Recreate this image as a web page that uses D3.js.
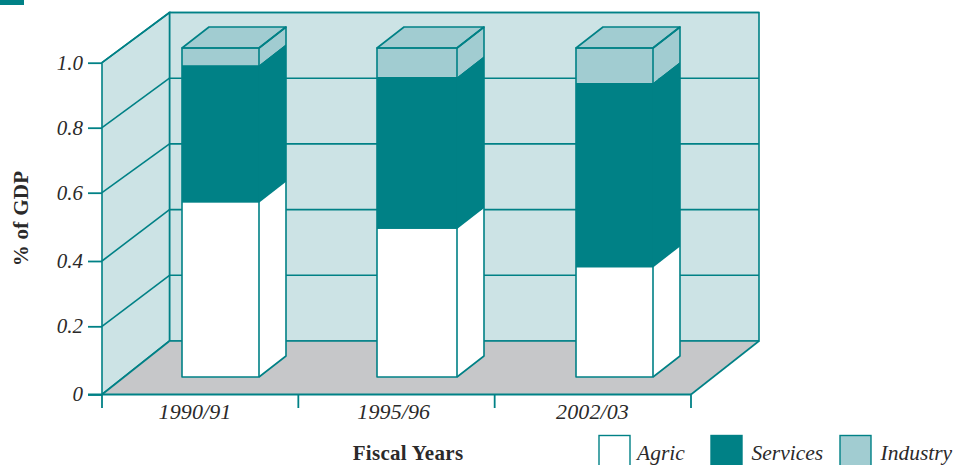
<!DOCTYPE html>
<html>
<head>
<meta charset="utf-8">
<script src="https://cdn.jsdelivr.net/npm/d3@7"></script>
<style>
  html, body { margin: 0; background: #fff; overflow: hidden; }
  text { font-family: "Liberation Serif", serif; fill: #2b2a2a; }
</style>
</head>
<body>
<script>
const years = ["1990/91", "1995/96", "2002/03"];
const seriesNames = ["Agric", "Services", "Industry"];
const agric = [0.53, 0.45, 0.333];
const services = [0.418, 0.462, 0.561];
const industry = [0.052, 0.088, 0.106];
const yTickValues = [0, 0.2, 0.4, 0.6, 0.8, 1.0];

const teal = "#008186";
const colors = {Agric: "#ffffff", Services: "#008186", Industry: "#a1ccd1"};
const wallColor = "#cce3e5";
const floorColor = "#c6c7c9";

const svg = d3.select("body").append("svg")
    .attr("width", 959)
    .attr("height", 465)
    .style("display", "block");

const rows = years.map((y, i) => ({year: y, Agric: agric[i], Services: services[i], Industry: industry[i]}));
const stacked = d3.stack().keys(seriesNames)(rows);

//front edge of the box, back wall, and the bars which sit in between
const x = d3.scaleBand().domain(years).range([102, 691]);
const xLabel = d3.scalePoint().domain(years).range([195, 592.5]);
//the ticks on the front edge are slightly uneven in the original
const yFront = d3.scaleLinear().domain(yTickValues).range([394.5, 326.3, 261, 192.7, 127.7, 62.7]);
const yBack = d3.scaleLinear().domain([0, 1]).range([341, 12.5]);
const yBar = d3.scaleLinear().domain([0, 1]).range([377, 48]);

const backLeft = 169.5, backRight = 759;
const sideDx = 27, sideDy = 21;
//the bars are not quite evenly placed either
const barX = d3.scaleOrdinal().domain(years).range([182, 377, 576]);
const barW = d3.scaleOrdinal().domain(years).range([77, 80, 77]);

const pts = a => a.map(p => p.join(",")).join(" ");

//walls and floor
svg.append("polygon")
    .attr("points", pts([[backLeft, yBack(1)], [backRight, yBack(1)], [backRight, yBack(0)], [backLeft, yBack(0)]]))
    .attr("fill", wallColor).attr("stroke", teal).attr("stroke-width", 1.6);
svg.append("polygon")
    .attr("points", pts([[102, yFront(1)], [backLeft, yBack(1)], [backLeft, yBack(0)], [102, yFront(0)]]))
    .attr("fill", wallColor).attr("stroke", teal).attr("stroke-width", 1.6);
svg.append("polygon")
    .attr("points", pts([[102, yFront(0)], [backLeft, yBack(0)], [backRight, yBack(0)], [691, yFront(0)]]))
    .attr("fill", floorColor).attr("stroke", "none");

//grid lines
svg.selectAll(".grid-back")
    .data(yTickValues)
    .join("line")
    .attr("class", "grid-back")
    .attr("x1", backLeft).attr("x2", backRight)
    .attr("y1", d => yBack(d)).attr("y2", d => yBack(d))
    .attr("stroke", teal).attr("stroke-width", 1.6);
svg.selectAll(".grid-side")
    .data(yTickValues)
    .join("line")
    .attr("class", "grid-side")
    .attr("x1", 102).attr("x2", backLeft)
    .attr("y1", d => yFront(d)).attr("y2", d => yBack(d))
    .attr("stroke", teal).attr("stroke-width", 1.6);
svg.append("line")
    .attr("x1", backRight).attr("x2", 691)
    .attr("y1", yBack(0)).attr("y2", yFront(0))
    .attr("stroke", teal).attr("stroke-width", 1.6);

//bars, one group per series
stacked.forEach(s => {
    const g = svg.append("g").attr("class", "series-" + s.key);
    g.selectAll(".side")
        .data(s)
        .join("polygon")
        .attr("class", "side")
        .attr("points", d => {
            const r = barX(d.data.year) + barW(d.data.year);
            return pts([[r, yBar(d[1])], [r + sideDx, yBar(d[1]) - sideDy], [r + sideDx, yBar(d[0]) - sideDy], [r, yBar(d[0])]]);
        })
        .attr("fill", colors[s.key]).attr("stroke", "none");
    g.selectAll(".front")
        .data(s)
        .join("rect")
        .attr("class", "front")
        .attr("x", d => barX(d.data.year))
        .attr("y", d => yBar(d[1]))
        .attr("width", d => barW(d.data.year))
        .attr("height", d => yBar(d[0]) - yBar(d[1]))
        .attr("fill", colors[s.key]);
});

//bar outlines on top of the fills
const barTop = yBar(1);
const barBase = yBar(0);
const outline = svg.selectAll(".bar-outline")
    .data(years)
    .join("g")
    .attr("class", "bar-outline")
    .attr("fill", "none").attr("stroke", teal).attr("stroke-width", 1.6).attr("stroke-linejoin", "round");
outline.append("polygon")
    .attr("points", d => {
        const l = barX(d), r = l + barW(d);
        return pts([[l, barTop], [l + sideDx, barTop - sideDy], [r + sideDx, barTop - sideDy], [r, barTop]]);
    })
    .attr("fill", colors.Industry);
outline.append("polyline")
    .attr("points", d => {
        const r = barX(d) + barW(d);
        return pts([[r, barTop], [r + sideDx, barTop - sideDy], [r + sideDx, barBase - sideDy], [r, barBase]]);
    });
outline.append("rect")
    .attr("x", d => barX(d))
    .attr("y", barTop)
    .attr("width", d => barW(d))
    .attr("height", barBase - barTop);

//axes
const yAxis = svg.append("g")
    .attr("transform", "translate(102,0)")
    .call(d3.axisLeft(yFront).tickValues(yTickValues).tickSize(14).tickSizeOuter(0).tickPadding(5)
        .tickFormat(d => d == 0 ? "0" : d3.format(".1f")(d)));
yAxis.select(".domain").remove();
yAxis.selectAll("line").attr("stroke", teal).attr("stroke-width", 1.8);
yAxis.selectAll("text")
    .style("font-size", "21px").style("font-style", "italic").attr("dy", "0.3em");

svg.append("line")
    .attr("x1", 88).attr("x2", 691)
    .attr("y1", yFront(0)).attr("y2", yFront(0))
    .attr("stroke", teal).attr("stroke-width", 1.8);
svg.selectAll(".x-tick")
    .data([...years.map(d => x(d)), 691])
    .join("line")
    .attr("class", "x-tick")
    .attr("x1", d => d).attr("x2", d => d)
    .attr("y1", yFront(0)).attr("y2", 408)
    .attr("stroke", teal).attr("stroke-width", 1.8);
svg.selectAll(".x-label")
    .data(years)
    .join("text")
    .attr("class", "x-label")
    .attr("x", d => xLabel(d))
    .attr("y", 418.5)
    .attr("text-anchor", "middle")
    .style("font-size", "22px").style("font-style", "italic").style("letter-spacing", "0.1px")
    .text(d => d);

//axis titles
svg.append("text")
    .attr("transform", "translate(28,218.5) rotate(-90)")
    .attr("text-anchor", "middle")
    .style("font-size", "21px").style("font-weight", "bold").style("letter-spacing", "0.3px")
    .text("% of GDP");
svg.append("text")
    .attr("x", 408).attr("y", 460)
    .attr("text-anchor", "middle")
    .style("font-size", "21px").style("font-weight", "bold").style("letter-spacing", "0.3px")
    .text("Fiscal Years");

//legend
const legendX = d3.scaleOrdinal().domain(seriesNames).range([599, 711, 840]);
const legend = svg.selectAll(".legend")
    .data(seriesNames)
    .join("g")
    .attr("class", "legend")
    .attr("transform", d => `translate(${legendX(d)},435.5)`);
legend.append("rect")
    .attr("width", 31).attr("height", 40)
    .attr("fill", d => colors[d])
    .attr("stroke", teal).attr("stroke-width", 1.4);
legend.append("text")
    .attr("x", d => d == "Agric" ? 38 : 40.5)
    .attr("y", 24)
    .style("font-size", "21.5px").style("font-style", "italic")
    .text(d => d);

//the small teal block in the corner
svg.append("rect")
    .attr("width", 24).attr("height", 5)
    .attr("fill", colors.Services);
</script>
</body>
</html>
